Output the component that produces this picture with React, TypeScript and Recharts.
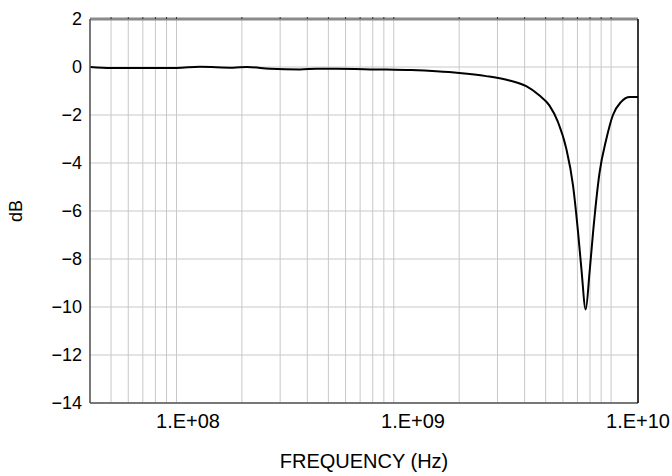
import React from 'react'
import { LineChart, Line, XAxis, YAxis, CartesianGrid } from 'recharts'

const freqHz = [
  4.0e7, 5.0e7, 7.0e7, 1.0e8, 1.28e8, 1.82e8, 2.11e8, 2.69e8, 3.7e8, 4.43e8, 5.42e8,
  8.29e8, 1.2e9, 1.57e9, 2.0e9, 2.66e9, 3.4e9, 4.07e9, 4.67e9, 5.2e9, 5.7e9, 6.22e9,
  6.68e9, 7.05e9, 7.3e9, 7.64e9, 7.97e9, 8.26e9, 8.85e9, 9.51e9, 1.02e10, 1.11e10,
  1.22e10, 1.33e10,
]
const gainDb = [
  0.0, -0.04, -0.04, -0.04, 0.01, -0.03, 0.0, -0.07, -0.1, -0.07, -0.07,
  -0.1, -0.13, -0.18, -0.25, -0.38, -0.56, -0.8, -1.18, -1.6, -2.3, -3.4,
  -4.93, -6.9, -8.4, -10.1, -8.5, -6.9, -4.4, -3.0, -2.0, -1.46,
  -1.25, -1.25,
]

const gridTicks = [
  5e7, 6e7, 7e7, 8e7, 9e7,
  1e8, 2e8, 3e8, 4e8, 5e8, 6e8, 7e8, 8e8, 9e8,
  1e9, 2e9, 3e9, 4e9, 5e9, 6e9, 7e9, 8e9, 9e9,
  1e10,
]
const labelTicks = [1e8, 1e9, 1e10]
const labelText = ['1.E+08', '1.E+09', '1.E+10']
const dbTicks = [-14, -12, -10, -8, -6, -4, -2, 0, 2]

const data = freqHz.map((f, i) => ({ f, db: gainDb[i] }))

const font = '"Liberation Sans", Arial, Helvetica, sans-serif'

const fmtDb = (v: number) => (v < 0 ? `\u2212${-v}` : `${v}`)
const fmtFreq = (v: number) => labelText[labelTicks.indexOf(v)] ?? ''

export default function App() {
  return (
    <div style={{ position: 'absolute', left: 0, top: 0, background: '#fff' }}>
      <LineChart
        width={672}
        height={476}
        data={data}
        margin={{ top: 18, right: 33, bottom: 0, left: 0 }}
        style={{ fontFamily: font }}
      >
        <CartesianGrid xAxisId="grid" yAxisId="db" stroke="#c8c8c8" strokeWidth={1} />
        <XAxis
          xAxisId="grid"
          orientation="top"
          dataKey="f"
          type="number"
          scale="log"
          domain={[4e7, 1.33e10]}
          allowDataOverflow
          ticks={gridTicks}
          tickFormatter={() => ''}
          height={1}
          tickSize={2}
          tickLine={{ stroke: '#333' }}
          axisLine={{ stroke: '#8a8a8a', strokeWidth: 3 }}
        />
        <XAxis
          xAxisId="lab"
          orientation="bottom"
          dataKey="f"
          type="number"
          scale="log"
          domain={[3.667e7, 1e10]}
          allowDataOverflow
          ticks={labelTicks}
          tickFormatter={fmtFreq}
          tick={{ fill: '#000', fontSize: 20 }}
          tickLine={false}
          tickSize={6}
          tickMargin={5}
          height={73}
          axisLine={{ stroke: '#555', strokeWidth: 1.5 }}
          label={{ value: 'FREQUENCY (Hz)', position: 'insideBottom', offset: 8, fill: '#000', fontSize: 20 }}
        />
        <YAxis
          yAxisId="db"
          type="number"
          domain={[-14, 2]}
          ticks={dbTicks}
          tickFormatter={fmtDb}
          tick={{ fill: '#000', fontSize: 18 }}
          tickLine={false}
          width={90}
          axisLine={{ stroke: '#555', strokeWidth: 1.5 }}
          label={{ value: 'dB', angle: -90, position: 'insideLeft', offset: 16, fill: '#000', fontSize: 18, style: { textAnchor: 'middle' } }}
        />
        <YAxis
          yAxisId="right"
          orientation="right"
          type="number"
          domain={[-14, 2]}
          tick={false}
          tickLine={false}
          width={1}
          axisLine={{ stroke: '#000', strokeWidth: 1.5 }}
        />
        <Line
          xAxisId="grid"
          yAxisId="db"
          type="monotone"
          dataKey="db"
          stroke="#000"
          strokeWidth={2}
          dot={false}
          isAnimationActive={false}
        />
      </LineChart>
    </div>
  )
}
